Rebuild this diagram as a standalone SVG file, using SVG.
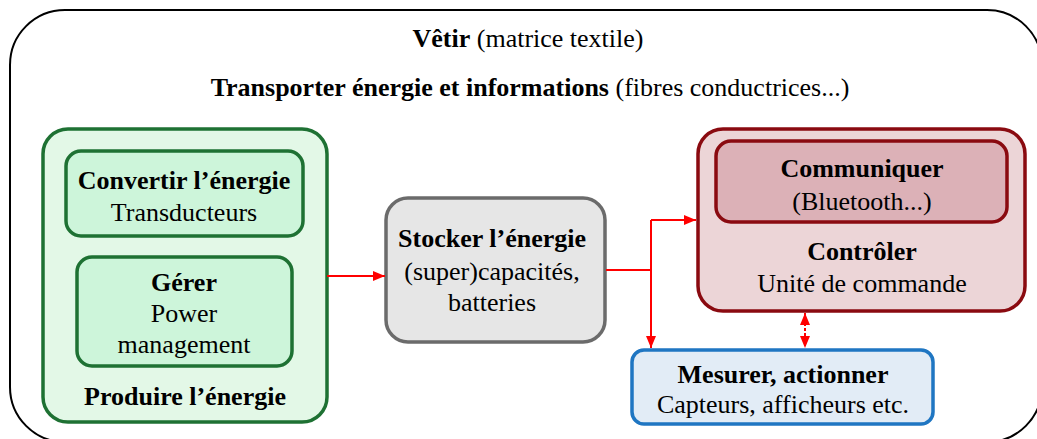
<svg xmlns="http://www.w3.org/2000/svg" width="1037" height="439" viewBox="0 0 1037 439">
<style>
text{font-family:"Liberation Serif","Times New Roman",serif;font-size:26px;fill:#000;text-anchor:middle}
.b{font-weight:bold}
.outer{fill:#fff;stroke:#000;stroke-width:2}
.gOut{fill:#e3f8e7;stroke:#1e7133;stroke-width:3.5}
.gIn{fill:#cdf5da;stroke:#1e7133;stroke-width:3.5}
.grey{fill:#e6e6e6;stroke:#6b6b6b;stroke-width:3.5}
.rOut{fill:#ecd5d7;stroke:#8a0a10;stroke-width:3.5}
.rIn{fill:#dcb1b7;stroke:#8a0a10;stroke-width:3.5}
.blue{fill:#e2ecf6;stroke:#1f76c2;stroke-width:3.5}
.con{fill:none;stroke:#ff0000;stroke-width:2}
</style>
<defs>
<marker id="ah" viewBox="0 0 12 10" refX="12" refY="5" markerWidth="12" markerHeight="10" markerUnits="userSpaceOnUse" orient="auto-start-reverse">
<path d="M0,0L12,5L0,10z" fill="#ff0000"/>
</marker>
</defs>
<g id="frame">
<rect class="outer" x="10" y="10" width="1032" height="432" rx="55"/>
<text x="528" y="47"><tspan class="b">Vêtir</tspan> (matrice textile)</text>
<text x="530" y="96"><tspan class="b">Transporter énergie et informations</tspan> (fibres conductrices...)</text>
</g>
<g id="produire">
<rect class="gOut" x="43" y="129" width="284" height="293" rx="25"/>
<text class="b" x="185" y="405">Produire l’énergie</text>
</g>
<g id="convertir">
<rect class="gIn" x="66" y="151" width="237" height="85" rx="15"/>
<text class="b" x="184" y="189">Convertir l’énergie</text>
<text x="184" y="221">Transducteurs</text>
</g>
<g id="gerer">
<rect class="gIn" x="77" y="257" width="215" height="109" rx="15"/>
<text class="b" x="184" y="291">Gérer</text>
<text x="184" y="322">Power</text>
<text x="184" y="353">management</text>
</g>
<g id="stocker">
<rect class="grey" x="386" y="198" width="219" height="144" rx="22"/>
<text class="b" x="492" y="247">Stocker l’énergie</text>
<text x="492" y="280">(super)capacités,</text>
<text x="492" y="311">batteries</text>
</g>
<g id="controler">
<rect class="rOut" x="698" y="129" width="327" height="182" rx="25"/>
<text class="b" x="862" y="260">Contrôler</text>
<text x="862" y="292">Unité de commande</text>
</g>
<g id="communiquer">
<rect class="rIn" x="716" y="141" width="291" height="81" rx="15"/>
<text class="b" x="862" y="177">Communiquer</text>
<text x="862" y="210">(Bluetooth...)</text>
</g>
<g id="mesurer">
<rect class="blue" x="632" y="350" width="301" height="74" rx="12"/>
<text class="b" x="783" y="383">Mesurer, actionner</text>
<text x="783" y="413">Capteurs, afficheurs etc.</text>
</g>
<g id="connectors">
<path class="con" d="M327,276H385" marker-end="url(#ah)"/>
<path class="con" d="M606,270H651"/>
<path class="con" d="M651,220H696" marker-end="url(#ah)"/>
<path class="con" d="M651,220V348" marker-end="url(#ah)"/>
<path class="con" d="M805,313V348" stroke-dasharray="3,2" marker-start="url(#ah)" marker-end="url(#ah)"/>
</g>
</svg>
